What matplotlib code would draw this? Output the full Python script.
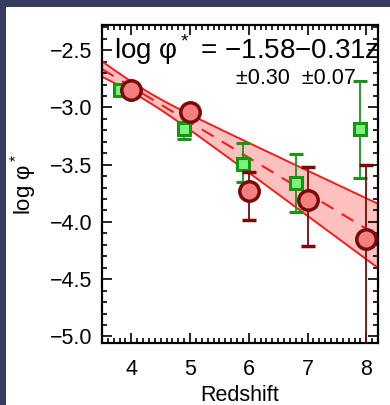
import numpy as np
import matplotlib
matplotlib.use("Agg")
import matplotlib.pyplot as plt
from matplotlib.patches import Rectangle
from matplotlib.ticker import MultipleLocator

plt.rcParams['font.family'] = ['Liberation Sans', 'DejaVu Sans']
plt.rcParams['mathtext.fontset'] = 'custom'
plt.rcParams['mathtext.rm'] = 'Liberation Sans'

# Red circles (this work)
z_red = [4.0, 5.0, 6.0, 7.0, 8.0]
phi_red = [-2.85, -3.04, -3.73, -3.81, -4.15]
err_red_lo = [0.04, 0.03, 0.25, 0.40, 1.00]
err_red_hi = [0.04, 0.03, 0.17, 0.29, 0.65]

# Green squares (literature)
z_green = [3.8, 4.9, 5.9, 6.8, 7.9]
phi_green = [-2.85, -3.19, -3.49, -3.66, -3.19]
err_green_lo = [0.03, 0.09, 0.16, 0.25, 0.43]
err_green_hi = [0.03, 0.06, 0.18, 0.25, 0.42]

# Fit
fit_a, fit_b = -1.58, -0.31
sig_a, sig_b, rho = 0.30, 0.07, -0.99

fig = plt.figure(figsize=(3.9, 4.05), dpi=100)
fig.patch.set_facecolor('#363c62')
fig.patches.append(Rectangle((6/390, 0), 1, 398/405, transform=fig.transFigure,
                             facecolor='white', edgecolor='none', zorder=-10))

ax = fig.add_axes([102/390, 62.3/405, 276/390, 317.7/405])
ax.set_xlim(3.5, 8.2)
ax.set_ylim(-5.055, -2.28)

zz = np.linspace(3.5, 8.2, 200)
center = fit_a + fit_b * zz
hw = np.sqrt(np.clip(sig_a**2 + (zz*sig_b)**2 + 2*zz*rho*sig_a*sig_b, 0, None))
ax.fill_between(zz, center - hw, center + hw, color='#ffc0c0', lw=0, zorder=1)
ax.plot(zz, center + hw, color='#ff1010', lw=1.3, zorder=2)
ax.plot(zz, center - hw, color='#ff1010', lw=1.3, zorder=2)
ax.plot(zz, center, color='#ff1010', lw=1.4, ls=(0, (7, 5)), zorder=2)

ax.errorbar(z_green, phi_green, yerr=[err_green_lo, err_green_hi], fmt='s',
            ms=8.5, mfc='#7ff07f', mec='#0e9a0e', mew=2.2, ecolor='#169616',
            elinewidth=1.3, capsize=5, capthick=1.3, zorder=4)
ax.errorbar(z_red, phi_red, yerr=[err_red_lo, err_red_hi], fmt='o',
            ms=14, mfc='#f47f7f', mec='#7a0a0a', mew=2.5, ecolor='#7a0a0a',
            elinewidth=1.3, capsize=5, capthick=1.3, zorder=5)

ax.xaxis.set_major_locator(MultipleLocator(1))
ax.xaxis.set_minor_locator(MultipleLocator(0.1))
ax.yaxis.set_major_locator(MultipleLocator(0.5))
ax.yaxis.set_minor_locator(MultipleLocator(0.1))
ax.tick_params(which='both', direction='in', top=True, right=True, width=1.2)
ax.tick_params(which='major', length=7, labelsize=15.5)
ax.tick_params(which='minor', length=3.5)
ax.tick_params(axis='y', which='major', pad=7)
ax.tick_params(axis='x', which='major', pad=12)
ax.set_yticks([-2.5, -3.0, -3.5, -4.0, -4.5, -5.0])
ax.set_yticklabels(['\u22122.5', '\u22123.0', '\u22123.5', '\u22124.0', '\u22124.5', '\u22125.0'])
ax.set_xticks([4, 5, 6, 7, 8])
ax.set_xticklabels(['4', '5', '6', '7', '8'])
for s in ax.spines.values():
    s.set_linewidth(1.6)

ax.set_xlabel('Redshift', fontsize=15.5, labelpad=3)
ax.set_ylabel('log \u03c6$^*$', fontsize=16, labelpad=8)

ax.text(0.045, 0.975, 'log \u03c6$^*$ = \u22121.58\u22120.31z', transform=ax.transAxes,
        fontsize=20, ha='left', va='top', zorder=6)
ax.text(0.92, 0.832, '\u00b10.30  \u00b10.07', transform=ax.transAxes,
        fontsize=15.5, ha='right', va='center', zorder=6)

fig.savefig('out.png', dpi=100, facecolor=fig.get_facecolor())
